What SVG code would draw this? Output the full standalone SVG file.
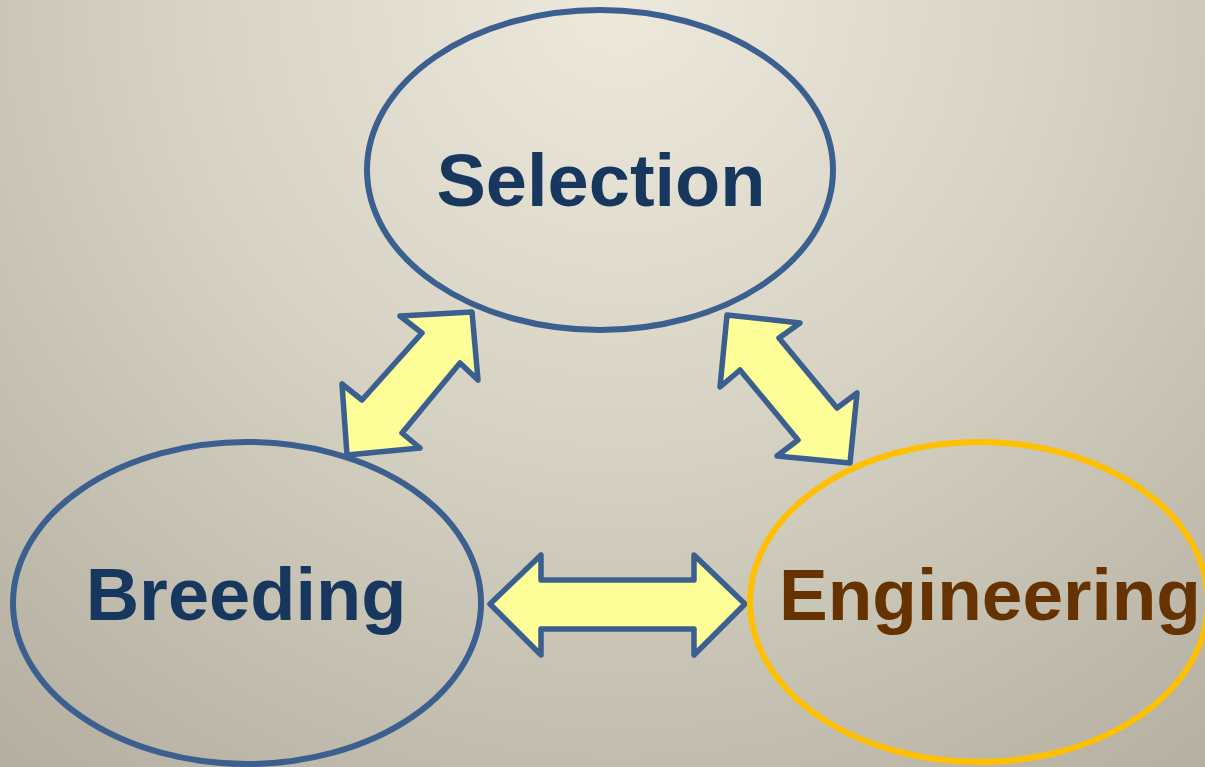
<svg xmlns="http://www.w3.org/2000/svg" width="1205" height="767" viewBox="0 0 1205 767">
<defs>
<radialGradient id="bg" gradientUnits="userSpaceOnUse" cx="620" cy="0" r="1100" fx="620" fy="0">
<stop offset="0" stop-color="#ede9dc"/>
<stop offset="0.4" stop-color="#d6d2c4"/>
<stop offset="1" stop-color="#aca798"/>
</radialGradient>
<style>
.ell{fill:none;stroke:#3b5f8e;stroke-width:6}
.eng{fill:none;stroke:#ffc000;stroke-width:6}
.arr{fill:#ffff99;stroke:#3b5f8e;stroke-width:5.5;stroke-linejoin:round}
.lbl{font-family:"Liberation Sans",Arial,sans-serif;font-weight:bold;font-size:74px;text-anchor:middle;fill:#17375e}
</style>
</defs>
<rect width="1205" height="767" fill="url(#bg)"/>
<g id="connectors">
<polygon class="arr" points="472,312 400,316 422,333 362,400 342,384 347,455 420,448 402,433 460,363 478,380"/>
<polygon class="arr" points="727,315 800,323 779,338 837,408 857,393 850,463 777,456 798,440 740,370 720,387"/>
<polygon class="arr" points="490,604 541,555 541,580 694,580 694,555 745,604 694,655 694,629 541,629 541,655"/>
</g>
<g id="selection">
<ellipse class="ell" cx="600" cy="170" rx="233" ry="160"/>
<text class="lbl" x="601" y="206">Selection</text>
</g>
<g id="breeding">
<ellipse class="ell" cx="247" cy="603" rx="234" ry="161"/>
<text class="lbl" x="246" y="620">Breeding</text>
</g>
<g id="engineering">
<ellipse class="eng" cx="979" cy="602" rx="229" ry="160"/>
<text class="lbl" x="990" y="620" style="fill:#663300;font-size:73px">Engineering</text>
</g>
</svg>
